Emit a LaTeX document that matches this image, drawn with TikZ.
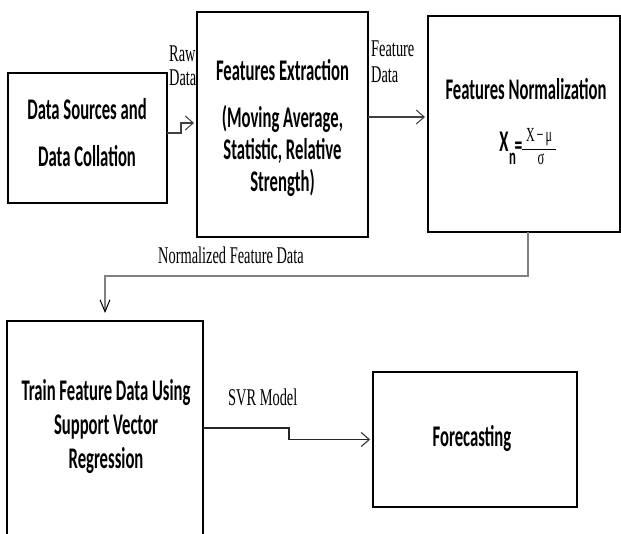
\documentclass[tikz,border=0pt]{standalone}
\usepackage{fontspec}
\setmainfont{Liberation Serif}
\newfontfamily\hdfont[FakeStretch=0.555]{Carlito}
\newfontfamily\lbfont[FakeStretch=0.6]{Liberation Serif}
\usetikzlibrary{arrows.meta}
\begin{document}
\begin{tikzpicture}[x=1pt,y=-1pt,
  box/.style={draw=black, line width=1.1pt, inner sep=0pt, outer sep=0pt, anchor=north west},
  hd/.style={font=\hdfont\bfseries\fontsize{30}{34}\selectfont, inner sep=0pt, anchor=base},
  lb/.style={font=\lbfont\fontsize{24}{24}\selectfont, inner sep=0pt, anchor=base west},
  conn/.style={draw=black!75, line width=1.3pt, shorten >=3pt,
    -{Straight Barb[length=8pt,width=14pt,line width=1pt]}},
  connN/.style={draw=black!50, line width=2.2pt, shorten >=8pt,
    -{Straight Barb[length=12pt,width=10pt,line width=1pt,color=black]}},
]
\useasboundingbox (0,0) rectangle (621,534);
\clip (0,0) rectangle (621,534);
\fill[white] (0,0) rectangle (621,534);

% boxes
\node[box, minimum width=159pt, minimum height=130pt] (b1) at (8,73) {};
\node[box, minimum width=171pt, minimum height=225pt] (b2) at (197,12) {};
\node[box, minimum width=192pt, minimum height=216pt] (b3) at (428,16) {};
\node[box, minimum width=196pt, minimum height=240pt] (b4) at (7,321) {};
\node[box, minimum width=204pt, minimum height=135pt] (b5) at (373,372) {};

% box texts
\node[hd] (t1a) at (87,120) {Data Sources and};
\node[hd] (t1b) at (87,167) {Data Collation};
\node[hd] (t2a) at (282.5,81) {Features Extraction};
\node[hd] (t2b) at (282.5,128) {(Moving Average,};
\node[hd] (t2c) at (282.5,160) {Statistic, Relative};
\node[hd] (t2d) at (282.5,192) {Strength)};
\node[hd] (t3a) at (526,100) {Features Normalization};
\node[hd] (t4a) at (106,400) {Train Feature Data Using};
\node[hd] (t4b) at (106,434) {Support Vector};
\node[hd] (t4c) at (106,468) {Regression};
\node[hd] (t5) at (472,446) {Forecasting};

% formula
\node[hd] (fx) at (504,152) {X};
\node[hd, font=\hdfont\bfseries\fontsize{23}{23}\selectfont] (fn) at (512.5,165) {n};
\node[hd, font=\hdfont\bfseries\fontsize{28}{28}\selectfont] (feq) at (518.5,155) {=};
\coordinate (barL) at (522,149);
\coordinate (barR) at (556,149);
\draw[line width=0.9pt] (barL) -- (barR);
\node[font=\lbfont\fontsize{20}{20}\selectfont, inner sep=0pt, anchor=base] (fnum) at (539,142) {X\kern2pt−\kern2ptμ};
\node[font=\lbfont\fontsize{21}{21}\selectfont, inner sep=0pt, anchor=base] (fden) at (541,165) {σ};

% labels
\node[lb] (lraw1) at (169,62) {Raw};
\node[lb] (lraw2) at (169,86) {Data};
\node[lb] (lfd1) at (371,57) {Feature};
\node[lb] (lfd2) at (371,83) {Data};
\node[lb] (lnorm) at (158,264) {Normalized Feature Data};
\node[lb] (lsvr) at (228,405) {SVR Model};

% connectors
\draw[conn] (b1.east |- 0,133) -- ++(14,0) |- (b2.west |- 0,123);
\draw[conn] (b2.east |- 0,117) -- (b3.west |- 0,117);
\draw[connN] (b3.south -| 528,0) -- (528,276) -| (b4.north);
\draw[conn, draw=black!85] (b4.east |- 0,428) -- (289,428) |- (b5.west);
\end{tikzpicture}
\end{document}
